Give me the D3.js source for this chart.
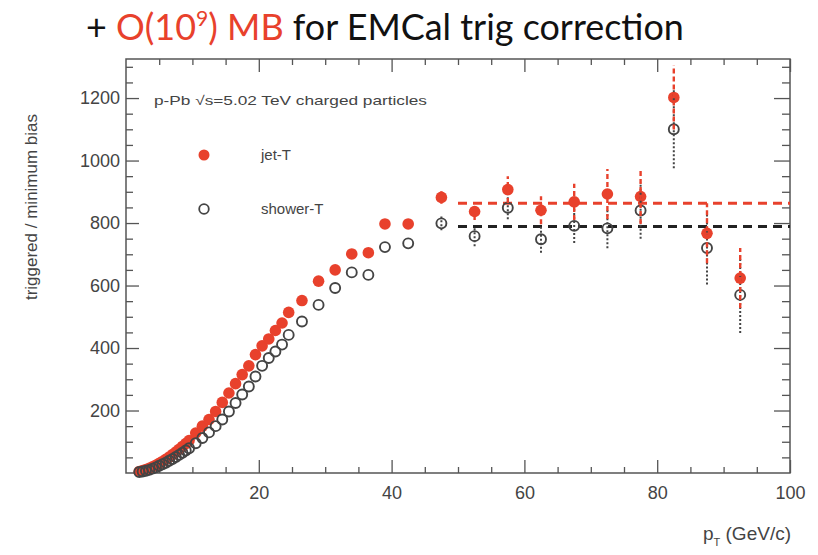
<!DOCTYPE html>
<html><head><meta charset="utf-8">
<script src="https://cdn.jsdelivr.net/npm/d3@7"></script>
<style>body{margin:0;background:#fff;} svg{display:block}</style>
</head><body>
<svg id="c" width="818" height="555"></svg>
<script>
// ---- data ----
const ptBins = [2,2.5,3,3.5,4,4.5,5,5.5,6,6.5,7,7.5,8,8.5,9,9.5,
  10.5,11.5,12.5,13.5,14.5,15.5,16.5,17.5,18.5,19.5,20.5,21.5,22.5,23.5,24.5,
  26.5,29,31.5,34,36.5,39,42.5,
  47.5,52.5,57.5,62.5,67.5,72.5,77.5,82.5,87.5,92.5];
const jetT = [5,8,11,15,20,25,31,37,44,51,59,67,76,85,94,104,
  128,150,171,197,226,256,286,315,343,379,407,429,456,480,514,
  552,614,650,701,705,797,797,
  882,837,907,841,868,893,885,1202,767,624];
const jetTErr = [0,0,0,0,0,0,0,0,0,0,0,0,0,0,0,0,
  0,0,0,0,0,0,0,0,0,0,0,0,0,0,0,
  0,0,0,0,0,0,0,
  20,27,43,45,58,80,88,103,96,96];
const showerT = [3,5,7,10,14,18,23,28,33,39,45,51,58,65,72,79,
  95,112,130,150,171,197,224,251,277,309,343,368,389,411,442,
  485,538,592,642,634,723,735,
  799,758,849,748,791,783,840,1100,720,570];
const showerTErr = [0,0,0,0,0,0,0,0,0,0,0,0,0,0,0,0,
  0,0,0,0,0,0,0,0,0,0,0,0,0,0,0,
  0,0,0,0,0,0,0,
  22,32,37,43,55,64,90,125,117,122];
const fitRange = [50, 100];
const jetFit = 863;
const showerFit = 789;
const xTickLabels = [20,40,60,80,100];
const yTickLabels = [200,400,600,800,1000,1200];
const xMinor = d3.range(5, 100, 5);
const yMinor = d3.range(50, 1325, 50);

const RED = "#e8412c";
const svg = d3.select("#c");
const L = 126, R = 790, T = 59, B = 473;
const x = d3.scaleLinear().domain([0, 100]).range([L, R]);
const y = d3.scaleLinear().domain([0, 1325]).range([B, T]);
const font = "'Liberation Sans', Arial, Helvetica, sans-serif";

// ---- title ----
const title = svg.append("text").attr("x", 86).attr("y", 40)
  .attr("font-family", "Lato, 'Open Sans', sans-serif").attr("font-size", 34);
title.append("tspan").attr("fill", "#111").text("+ ");
title.append("tspan").attr("fill", RED).text("O(10");
title.append("tspan").attr("fill", RED).attr("font-size", 20).attr("dy", -13).text("9");
title.append("tspan").attr("fill", RED).attr("dy", 13).text(") MB");
title.append("tspan").attr("fill", "#111").text(" for EMCal trig correction");
{
  const w = title.node().getBBox().width;
  const s = 598 / w;
  title.attr("font-size", 34 * s);
  title.selectAll("tspan").filter((d,i)=>i===2).attr("font-size", 20*s).attr("dy", -13*s);
  title.selectAll("tspan").filter((d,i)=>i===3).attr("dy", 13*s);
}

// ---- frame ----
const g = svg.append("g");
g.append("rect").attr("x", L).attr("y", T).attr("width", R-L).attr("height", B-T)
  .attr("fill", "none").attr("stroke", "#555").attr("stroke-width", 1.5);

function styleAxis(sel){
  sel.select(".domain").remove();
  sel.selectAll(".tick line").attr("stroke", "#555").attr("stroke-width", 1.3);
}
// bottom
g.append("g").attr("transform", `translate(0,${B})`)
  .call(d3.axisBottom(x).tickValues(xMinor.filter(v=>v%20!==0)).tickSize(-6).tickFormat(""))
  .call(styleAxis);
const xb = g.append("g").attr("transform", `translate(0,${B})`)
  .call(d3.axisBottom(x).tickValues(xTickLabels).tickSize(-13).tickFormat(d3.format("d")))
  .call(styleAxis);
xb.selectAll("text").attr("font-family", font).attr("font-size", 18).attr("fill", "#444").attr("dy", "0.71em").attr("y", 13);
// top
g.append("g").attr("transform", `translate(0,${T})`)
  .call(d3.axisTop(x).tickValues(xMinor.filter(v=>v%20!==0)).tickSize(-6).tickFormat(""))
  .call(styleAxis);
g.append("g").attr("transform", `translate(0,${T})`)
  .call(d3.axisTop(x).tickValues(xTickLabels).tickSize(-13).tickFormat(""))
  .call(styleAxis);
// left
g.append("g").attr("transform", `translate(${L},0)`)
  .call(d3.axisLeft(y).tickValues(yMinor.filter(v=>v%200!==0)).tickSize(-7).tickFormat(""))
  .call(styleAxis);
const yl = g.append("g").attr("transform", `translate(${L},0)`)
  .call(d3.axisLeft(y).tickValues(yTickLabels).tickSize(-13).tickFormat(d3.format("d")))
  .call(styleAxis);
yl.selectAll("text").attr("font-family", font).attr("font-size", 18).attr("fill", "#444").attr("x", -6);
// right
g.append("g").attr("transform", `translate(${R},0)`)
  .call(d3.axisRight(y).tickValues(yMinor.filter(v=>v%200!==0)).tickSize(-8).tickFormat(""))
  .call(styleAxis);
g.append("g").attr("transform", `translate(${R},0)`)
  .call(d3.axisRight(y).tickValues(yTickLabels).tickSize(-16).tickFormat(""))
  .call(styleAxis);

// ---- axis titles ----
svg.append("text").attr("transform", `translate(37,207) rotate(-90)`)
  .attr("text-anchor", "middle").attr("font-family", font).attr("font-size", 17)
  .attr("fill", "#444").text("triggered / minimum bias");
const xt = svg.append("text").attr("x", 791).attr("y", 540).attr("text-anchor", "end")
  .attr("font-family", font).attr("font-size", 19).attr("fill", "#444");
xt.append("tspan").text("p");
xt.append("tspan").attr("font-size", 11).attr("dy", 6).text("T");
xt.append("tspan").attr("dy", -6).text(" (GeV/c)");

// ---- annotation & legend ----
svg.append("text").attr("x", 154).attr("y", 105).attr("font-family", font)
  .attr("font-size", 13).attr("fill", "#444").attr("textLength", 273).attr("lengthAdjust", "spacingAndGlyphs")
  .text("p-Pb  √s=5.02 TeV charged particles");
svg.append("circle").attr("cx", 204).attr("cy", 155).attr("r", 5.5).attr("fill", RED);
svg.append("circle").attr("cx", 204).attr("cy", 209).attr("r", 4.8).attr("fill", "none")
  .attr("stroke", "#444").attr("stroke-width", 1.8);
svg.append("text").attr("x", 261).attr("y", 160).attr("font-family", font).attr("font-size", 15)
  .attr("fill", "#444").text("jet-T");
svg.append("text").attr("x", 261).attr("y", 214).attr("font-family", font).attr("font-size", 15)
  .attr("fill", "#444").text("shower-T");

// ---- fits ----
svg.append("line").attr("x1", x(fitRange[0])).attr("x2", x(fitRange[1]))
  .attr("y1", y(jetFit)).attr("y2", y(jetFit))
  .attr("stroke", RED).attr("stroke-width", 3).attr("stroke-dasharray", "9,6");
svg.append("line").attr("x1", x(fitRange[0])).attr("x2", x(fitRange[1]))
  .attr("y1", y(showerFit)).attr("y2", y(showerFit))
  .attr("stroke", "#222").attr("stroke-width", 3).attr("stroke-dasharray", "9,6");

// ---- points ----
const jetData = ptBins.map((p,i)=>({p, v: jetT[i], e: jetTErr[i]}));
const shData = ptBins.map((p,i)=>({p, v: showerT[i], e: showerTErr[i]}));

svg.append("g").selectAll("circle").data(jetData).join("circle")
  .attr("cx", d=>x(d.p)).attr("cy", d=>y(d.v)).attr("r", 5.8).attr("fill", RED);
svg.append("g").selectAll("circle").data(shData).join("circle")
  .attr("cx", d=>x(d.p)).attr("cy", d=>y(d.v)).attr("r", 5)
  .attr("fill", "none").attr("stroke", "#444").attr("stroke-width", 1.9);
svg.append("g").selectAll("line").data(shData.filter(d=>d.e>0)).join("line")
  .attr("x1", d=>x(d.p)).attr("x2", d=>x(d.p))
  .attr("y1", d=>y(d.v-d.e)).attr("y2", d=>y(d.v+d.e))
  .attr("stroke", "#444").attr("stroke-width", 2).attr("stroke-dasharray", "2,2");
svg.append("g").selectAll("line").data(jetData.filter(d=>d.e>0)).join("line")
  .attr("x1", d=>x(d.p)).attr("x2", d=>x(d.p))
  .attr("y1", d=>y(d.v-d.e)).attr("y2", d=>y(d.v+d.e))
  .attr("stroke", RED).attr("stroke-width", 2.4).attr("stroke-dasharray", "5,3");
</script>
</body></html>
